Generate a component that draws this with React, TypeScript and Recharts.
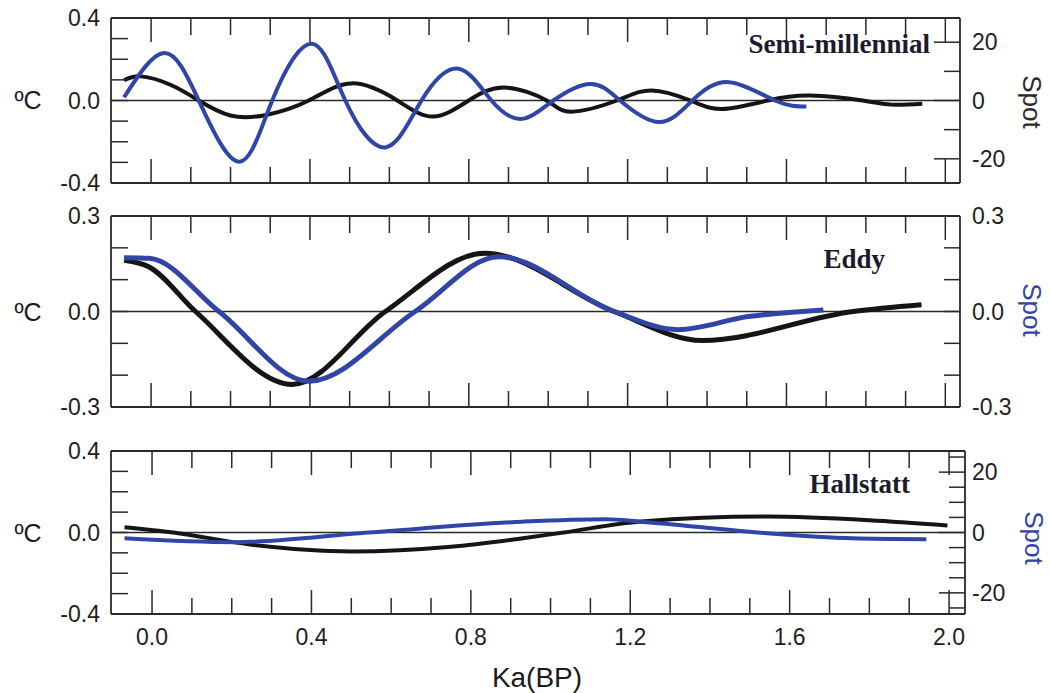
import React from 'react';
import { LineChart, Line, XAxis, YAxis, ReferenceLine } from 'recharts';

const BLUE = '#3145a6';
const BLACK = '#151515';
const AXIS = '#2a2a2a';
const SANS = '"Liberation Sans", Arial, sans-serif';
const SERIF = '"Liberation Serif", "Times New Roman", serif';

const xTicks = [0, 0.1, 0.2, 0.3, 0.4, 0.5, 0.6, 0.7, 0.8, 0.9, 1.0, 1.1, 1.2, 1.3, 1.4, 1.5, 1.6, 1.7, 1.8, 1.9, 2.0];
const xLabels = [0, 0.4, 0.8, 1.2, 1.6, 2.0];

// Semi-millennial
const semiTempX = [-0.068, -0.025, 0.05, 0.12, 0.2, 0.29, 0.397, 0.505, 0.62, 0.71, 0.8, 0.89, 0.996, 1.058, 1.173, 1.26, 1.358, 1.438, 1.553, 1.66, 1.792, 1.863, 1.942];
const semiTempY = [0.098, 0.117, 0.075, 0, -0.073, -0.07, 0, 0.083, 0, -0.078, 0, 0.063, 0, -0.054, 0, 0.049, 0, -0.041, 0, 0.024, 0, -0.02, -0.016];
const semiSpotX = [-0.068, 0.033, 0.12, 0.221, 0.305, 0.405, 0.489, 0.59, 0.681, 0.774, 0.857, 0.934, 1.013, 1.106, 1.181, 1.279, 1.363, 1.456, 1.571, 1.65];
const semiSpotY = [1.1, 16.3, 0, -21, 0, 19.5, 0, -16.1, 0, 10.9, 0, -6.3, 0, 5.7, 0, -7.4, 0, 6.3, 0, -2.1];

// Eddy
const eddyTempX = [-0.068, -0.005, 0.112, 0.355, 0.59, 0.84, 1.166, 1.388, 1.768, 1.94];
const eddyTempY = [0.161, 0.14, 0, -0.229, 0, 0.183, 0, -0.091, 0, 0.021];
const eddySpotX = [-0.068, -0.005, 0.171, 0.397, 0.665, 0.875, 1.166, 1.326, 1.503, 1.693];
const eddySpotY = [0.169, 0.167, 0, -0.219, 0, 0.172, 0, -0.057, -0.016, 0.005];

// Hallstatt
const hallTempX = [-0.069, 0.053, 0.25, 0.5, 0.75, 0.931, 1.033, 1.227, 1.545, 1.8, 1.996];
const hallTempY = [0.026, 0, -0.06, -0.093, -0.07, -0.028, 0, 0.054, 0.078, 0.06, 0.034];
const hallSpotX = [-0.069, 0.205, 0.543, 0.931, 1.139, 1.227, 1.519, 1.757, 1.943];
const hallSpotY = [-1.9, -3.2, 0, 3.6, 4.4, 3.6, 0, -1.9, -2.2];

const tempTicks4 = [-0.4, -0.3, -0.2, -0.1, 0, 0.1, 0.2, 0.3, 0.4];
const tempTicks3 = [-0.3, -0.2, -0.1, 0, 0.1, 0.2, 0.3];
const spotTicks10 = [-20, -10, 0, 10, 20];
const spotTicks5 = [-25, -20, -15, -10, -5, 0, 5, 10, 15, 20, 25];

const pairs = (xs: number[], ys: number[]) => xs.map((x, i) => ({ x, y: ys[i] }));
const near = (list: number[], v: number) => list.some((l) => Math.abs(l - v) < 1e-6);

type PanelProps = {
  top: number;
  bottom: number;
  right: number;
  xDomain: [number, number];
  tempDomain: [number, number];
  tempTicks: number[];
  tempLabels: number[];
  spotDomain: [number, number];
  spotTicks: number[];
  spotLabels: number[];
  spotMajor: number[];
  spotFmt: (v: number) => string;
  temp: { x: number; y: number }[];
  spot: { x: number; y: number }[];
  lineWidth: number;
  curve: 'monotone' | 'natural';
  showX: boolean;
};

function Panel(p: PanelProps) {
  const leftTick = (props: any) => {
    const { x, y, payload } = props;
    const v = payload.value;
    return (
      <g>
        <line x1={x} x2={x + 17} y1={y} y2={y} stroke={AXIS} strokeWidth={1.5} />
        {near(p.tempLabels, v) && (
          <text x={x - 11} y={y} dy="0.36em" textAnchor="end" fontSize={23} fontFamily={SANS} fill="#1e1e1e">
            {v.toFixed(1)}
          </text>
        )}
      </g>
    );
  };

  const rightTick = (props: any) => {
    const { x, y, payload } = props;
    const v = payload.value;
    const len = near(p.spotMajor, v) ? 26 : 16;
    return (
      <g>
        <line x1={x} x2={x - len} y1={y} y2={y} stroke={AXIS} strokeWidth={1.5} />
        {near(p.spotLabels, v) && (
          <text x={972} y={y} dy="0.36em" textAnchor="start" fontSize={23} fontFamily={SANS} fill="#1e1e1e">
            {p.spotFmt(v)}
          </text>
        )}
      </g>
    );
  };

  const bottomTick = (props: any) => {
    const { x, y, payload } = props;
    const v = payload.value;
    const major = near(xLabels, v);
    return (
      <g>
        <line x1={x} x2={x} y1={y} y2={y - (major ? 24 : 16)} stroke={AXIS} strokeWidth={1.5} />
        {p.showX && major && (
          <text x={x} y={y + 23} dy="0.36em" textAnchor="middle" fontSize={23} fontFamily={SANS} fill="#1e1e1e">
            {v.toFixed(1)}
          </text>
        )}
      </g>
    );
  };

  const topTick = (props: any) => {
    const { x, y, payload } = props;
    const major = near(xLabels, payload.value);
    return <line x1={x} x2={x} y1={y} y2={y + (major ? 24 : 17)} stroke={AXIS} strokeWidth={1.5} />;
  };

  return (
    <div style={{ position: 'absolute', left: 0, top: 0 }}>
      <LineChart
        width={1051}
        height={693}
        margin={{ top: p.top - 1, bottom: 693 - p.bottom - 1, left: 0, right: 0 }}
      >
        <XAxis
          xAxisId="b"
          dataKey="x"
          type="number"
          domain={p.xDomain}
          allowDataOverflow
          ticks={xTicks}
          interval={0}
          height={1}
          tickSize={0}
          tickMargin={0}
          tick={bottomTick}
          axisLine={{ stroke: AXIS, strokeWidth: 1.8 }}
        />
        <XAxis
          xAxisId="t"
          orientation="top"
          dataKey="x"
          type="number"
          domain={p.xDomain}
          allowDataOverflow
          ticks={xTicks}
          interval={0}
          height={1}
          tickSize={0}
          tickMargin={0}
          tick={topTick}
          axisLine={{ stroke: AXIS, strokeWidth: 1.8 }}
        />
        <YAxis
          yAxisId="L"
          type="number"
          domain={p.tempDomain}
          allowDataOverflow
          ticks={p.tempTicks}
          interval={0}
          width={111}
          tickSize={0}
          tickMargin={0}
          tick={leftTick}
          axisLine={{ stroke: AXIS, strokeWidth: 1.8 }}
        />
        <YAxis
          yAxisId="R"
          orientation="right"
          type="number"
          domain={p.spotDomain}
          allowDataOverflow
          ticks={p.spotTicks}
          interval={0}
          width={1051 - p.right}
          tickSize={0}
          tickMargin={0}
          tick={rightTick}
          axisLine={{ stroke: AXIS, strokeWidth: 1.8 }}
        />
        <ReferenceLine xAxisId="b" yAxisId="L" y={0} stroke={AXIS} strokeWidth={1.3} />
        <Line
          xAxisId="b"
          yAxisId="L"
          data={p.temp}
          dataKey="y"
          type={p.curve}
          stroke={BLACK}
          strokeWidth={p.lineWidth}
          dot={false}
          isAnimationActive={false}
        />
        <Line
          xAxisId="b"
          yAxisId="R"
          data={p.spot}
          dataKey="y"
          type={p.curve}
          stroke={BLUE}
          strokeWidth={p.lineWidth}
          dot={false}
          isAnimationActive={false}
        />
      </LineChart>
    </div>
  );
}

export default function App() {
  const intFmt = (v: number) => String(v);
  const decFmt = (v: number) => v.toFixed(1);
  return (
    <div style={{ position: 'absolute', left: 0, top: 0, width: 1051, height: 693, background: '#fff' }}>
      <Panel
        top={18}
        bottom={183}
        right={960}
        xDomain={[-0.101, 2.037]}
        tempDomain={[-0.4, 0.4]}
        tempTicks={tempTicks4}
        tempLabels={[-0.4, 0, 0.4]}
        spotDomain={[-28.3, 28.3]}
        spotTicks={spotTicks10}
        spotLabels={[-20, 0, 20]}
        spotMajor={[-20, 0, 20]}
        spotFmt={intFmt}
        temp={pairs(semiTempX, semiTempY)}
        spot={pairs(semiSpotX, semiSpotY)}
        lineWidth={4}
        curve="natural"
        showX={false}
      />
      <Panel
        top={216}
        bottom={407}
        right={960}
        xDomain={[-0.101, 2.037]}
        tempDomain={[-0.3, 0.3]}
        tempTicks={tempTicks3}
        tempLabels={[-0.3, 0, 0.3]}
        spotDomain={[-0.3, 0.3]}
        spotTicks={tempTicks3}
        spotLabels={[-0.3, 0, 0.3]}
        spotMajor={[]}
        spotFmt={decFmt}
        temp={pairs(eddyTempX, eddyTempY)}
        spot={pairs(eddySpotX, eddySpotY)}
        lineWidth={5}
        curve="monotone"
        showX={false}
      />
      <Panel
        top={451}
        bottom={614}
        right={965}
        xDomain={[-0.103, 2.04]}
        tempDomain={[-0.4, 0.4]}
        tempTicks={tempTicks4}
        tempLabels={[-0.4, 0, 0.4]}
        spotDomain={[-27, 27]}
        spotTicks={spotTicks5}
        spotLabels={[-20, 0, 20]}
        spotMajor={[-20, 0, 20]}
        spotFmt={intFmt}
        temp={pairs(hallTempX, hallTempY)}
        spot={pairs(hallSpotX, hallSpotY)}
        lineWidth={4}
        curve="monotone"
        showX={true}
      />
      <svg width={1051} height={693} style={{ position: 'absolute', left: 0, top: 0, pointerEvents: 'none' }}>
        <g fontFamily={SANS} fontSize={25} fill="#1a1a1a">
          <text x={28} y={100} dy="0.36em" textAnchor="middle">ºC</text>
          <text x={28} y={312} dy="0.36em" textAnchor="middle">ºC</text>
          <text x={28} y={533} dy="0.36em" textAnchor="middle">ºC</text>
        </g>
        <g fontFamily={SANS} fontSize={26}>
          <text transform="translate(1032,102) rotate(90)" textAnchor="middle" dy="0.36em" fill="#2a2a2a">Spot</text>
          <text transform="translate(1032,310) rotate(90)" textAnchor="middle" dy="0.36em" fill={BLUE}>Spot</text>
          <text transform="translate(1034,538) rotate(90)" textAnchor="middle" dy="0.36em" fill={BLUE}>Spot</text>
        </g>
        <g fontFamily={SERIF} fontSize={27} fontWeight="bold" fill="#1b1b2b">
          <text x={930} y={53} textAnchor="end">Semi-millennial</text>
          <text x={885} y={268} textAnchor="end">Eddy</text>
          <text x={910} y={493} textAnchor="end">Hallstatt</text>
        </g>
        <text x={537} y={687} textAnchor="middle" fontFamily={SANS} fontSize={28} fill="#1a1a1a">Ka(BP)</text>
      </svg>
    </div>
  );
}
